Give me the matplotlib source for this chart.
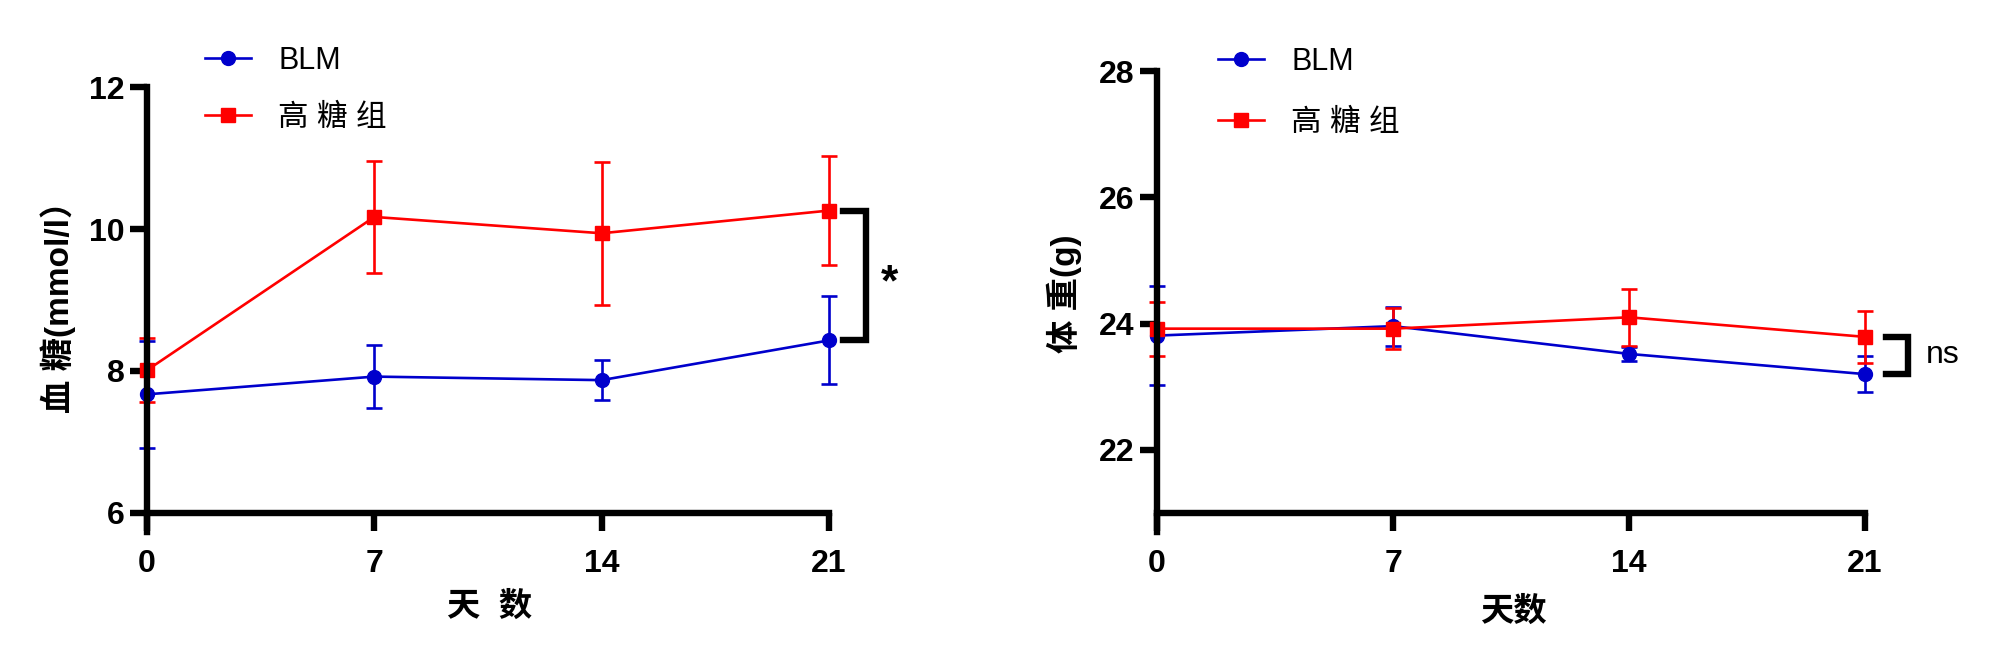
import matplotlib
matplotlib.use("Agg")
import matplotlib.pyplot as plt
from matplotlib.lines import Line2D

plt.rcParams["font.family"] = ["Liberation Sans", "Noto Sans CJK SC", "DejaVu Sans"]

# values (mean, +/- error)
days = [0, 7, 14, 21]
series_names = ["BLM", "高 糖 组"]

glu_blm = [7.67, 7.92, 7.87, 8.43]
glu_blm_err = [0.75, 0.44, 0.28, 0.62]
glu_hg = [8.01, 10.17, 9.94, 10.26]
glu_hg_err = [0.45, 0.79, 1.01, 0.77]

wt_blm = [23.81, 23.96, 23.52, 23.20]
wt_blm_err = [0.78, 0.31, 0.11, 0.29]
wt_hg = [23.92, 23.92, 24.10, 23.79]
wt_hg_err = [0.43, 0.33, 0.45, 0.41]

glu_ticks = [6, 8, 10, 12]
wt_ticks = [22, 24, 26, 28]

BLUE = "#0000CC"
RED = "#FF0000"
STYLES = [(BLUE, "o"), (RED, "s")]
AXW = 4.6


def style_axes(ax, yticks, ymin, ylo):
    ax.set_xlim(0, 21)
    ax.set_ylim(ylo, yticks[-1])
    ax.spines["top"].set_visible(False)
    ax.spines["right"].set_visible(False)
    ax.spines["left"].set_linewidth(AXW)
    ax.spines["bottom"].set_linewidth(AXW)
    ax.spines["bottom"].set_position(("data", ymin))
    ax.spines["bottom"].set_capstyle("projecting")
    ax.set_xticks(days)
    ax.set_yticks(yticks)
    ax.tick_params(axis="x", direction="out", length=13, width=AXW,
                   labelsize=23, pad=13)
    ax.tick_params(axis="y", direction="out", length=12, width=AXW,
                   labelsize=23, pad=4)
    for lab in ax.get_xticklabels() + ax.get_yticklabels():
        lab.set_fontweight("bold")


def draw_series(ax, blm, blm_err, hg, hg_err):
    for (y, e), (c, m) in zip([(blm, blm_err), (hg, hg_err)], STYLES):
        line, caps, bars = ax.errorbar(days, y, yerr=e, color=c, marker=m,
                                       markersize=10, lw=1.9, elinewidth=1.9,
                                       capsize=5.5, capthick=1.9)
        for art in [line, *caps, *bars]:
            art.set_clip_on(False)


def add_legend(ax, anchor, spacing):
    handles = [Line2D([], [], color=c, marker=m, markersize=10, lw=1.9)
               for c, m in STYLES]
    ax.legend(handles, series_names, loc="upper left", bbox_to_anchor=anchor,
              bbox_transform=fig.transFigure, frameon=False, fontsize=22,
              handlelength=1.5, handletextpad=0.9, labelspacing=spacing,
              borderpad=0, borderaxespad=0)


def bracket(ax, top, bot, x0, x1):
    ax.plot([x0, x1, x1, x0], [top, top, bot, bot], color="black", lw=AXW,
            clip_on=False, solid_joinstyle="miter")


fig = plt.figure(figsize=(20, 6.7), dpi=100)
ax1 = fig.add_axes([0.0735, 0.206, 0.341, 0.664])
ax2 = fig.add_axes([0.5785, 0.206, 0.354, 0.688])

# blood glucose
style_axes(ax1, glu_ticks, 6, 5.73)
draw_series(ax1, glu_blm, glu_blm_err, glu_hg, glu_hg_err)
bracket(ax1, glu_hg[-1], glu_blm[-1], 21.43, 22.14)
ax1.text(22.85, (glu_hg[-1] + glu_blm[-1]) / 2 - 0.12, "*", fontsize=32,
         fontweight="bold", ha="center", va="center", clip_on=False)
ax1.set_ylabel("血 糖(mmol/l）", fontsize=24, fontweight="bold",
               va="center", ha="center")
ax1.yaxis.set_label_coords(-0.1305, 0.525)
ax1.set_xlabel("天  数", fontsize=24, fontweight="bold", va="center")
ax1.xaxis.set_label_coords(0.503, -0.17)
add_legend(ax1, (0.1025, 0.932), 0.9)

# body weight
style_axes(ax2, wt_ticks, 21, 20.7)
draw_series(ax2, wt_blm, wt_blm_err, wt_hg, wt_hg_err)
bracket(ax2, wt_hg[-1], wt_blm[-1], 21.62, 22.29)
ax2.text(22.8, (wt_hg[-1] + wt_blm[-1]) / 2, "ns", fontsize=23,
         ha="left", va="center", clip_on=False)
ax2.set_ylabel("体 重(g)", fontsize=24, fontweight="bold",
               va="center", ha="center")
ax2.yaxis.set_label_coords(-0.131, 0.516)
ax2.set_xlabel("天数", fontsize=24, fontweight="bold", va="center")
ax2.xaxis.set_label_coords(0.503, -0.175)
add_legend(ax2, (0.609, 0.93), 1.02)

fig.savefig("out.png", dpi=100)
